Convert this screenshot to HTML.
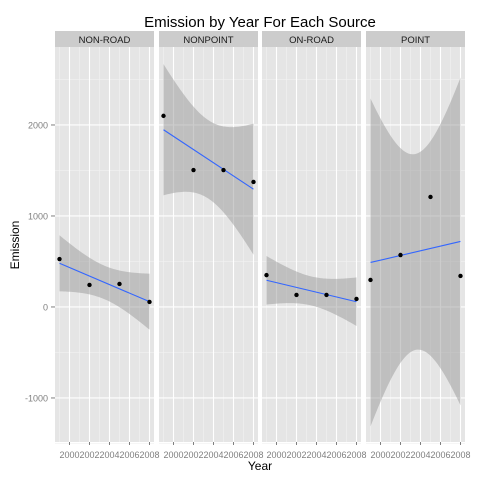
<!DOCTYPE html>
<html><head><meta charset="utf-8"><style>
html,body{margin:0;padding:0;background:#fff;}
svg{display:block;font-family:"Liberation Sans",sans-serif;}
</style></head><body>
<svg id="chart" width="480" height="480"></svg>
<script>
const panels = ["NON-ROAD","NONPOINT","ON-ROAD","POINT"];
const years = [1999, 2002, 2005, 2008];
const nonRoad = [527, 242, 253, 55];
const nonPoint = [2100, 1505, 1505, 1374];
const onRoad = [350, 132, 132, 88];
const pointSrc = [297, 571, 1209, 341];
const series = [nonRoad, nonPoint, onRoad, pointSrc];
const xTicks = [2000, 2002, 2004, 2006, 2008];
const yTicks = [-1000, 0, 1000, 2000];

const NS = "http://www.w3.org/2000/svg";
const svg = document.getElementById("chart");
function mk(tag, attrs, parent) {
  const e = document.createElementNS(NS, tag);
  for (const k in attrs) e.setAttribute(k, attrs[k]);
  (parent || svg).appendChild(e);
  return e;
}
const panelX = [55, 159, 262, 366];
const panelW = 99;
const plotTop = 47, plotBottom = 442;
const xMin = 1998.55, xMax = 2008.45;
const yMin = -1484, yMax = 2857;
function sx(i, v) { return panelX[i] + (v - xMin) / (xMax - xMin) * panelW; }
function sy(v) { return plotBottom - (v - yMin) / (yMax - yMin) * (plotBottom - plotTop); }

const title = mk("text", {x: 260, y: 27, "text-anchor": "middle", "font-size": 15, fill: "#000"});
title.textContent = "Emission by Year For Each Source";



panels.forEach((name, i) => {
  const g = mk("g", {});
  
  
  const x0 = panelX[i];
  mk("rect", {x: x0, y: 31, width: panelW, height: 16, fill: "#cccccc"}, g);
  const st = mk("text", {x: x0 + panelW / 2, y: 43, "text-anchor": "middle", "font-size": 9.5, fill: "#1a1a1a"}, g);
  st.textContent = name;
  
  
  mk("rect", {x: x0, y: plotTop, width: panelW, height: plotBottom - plotTop, fill: "#e5e5e5"}, g);
  for (let yr = 1999; yr <= 2008; yr += 2) {
    mk("line", {x1: sx(i, yr), x2: sx(i, yr), y1: plotTop, y2: plotBottom, stroke: "#f2f2f2", "stroke-width": 0.6}, g);
  }
  for (let v = -1500; v <= 2500; v += 1000) {
    mk("line", {x1: x0, x2: x0 + panelW, y1: sy(v), y2: sy(v), stroke: "#f2f2f2", "stroke-width": 0.6}, g);
  }
  xTicks.forEach(t => {
    mk("line", {x1: sx(i, t), x2: sx(i, t), y1: plotTop, y2: plotBottom, stroke: "#fff", "stroke-width": 1.1}, g);
    mk("line", {x1: sx(i, t), x2: sx(i, t), y1: plotBottom, y2: plotBottom + 3, stroke: "#7f7f7f", "stroke-width": 1}, g);
    const tl = mk("text", {x: sx(i, t), y: 458, "text-anchor": "middle", "font-size": 9, fill: "#7f7f7f"}, g);
    tl.textContent = t;
    
    
  });
  yTicks.forEach(t => {
    mk("line", {x1: x0, x2: x0 + panelW, y1: sy(t), y2: sy(t), stroke: "#fff", "stroke-width": 1.1}, g);
  });
  const ys = series[i];
  const n = years.length;
  const xm = years.reduce((a, b) => a + b) / n, ym = ys.reduce((a, b) => a + b) / n;
  let sxx = 0, sxy = 0;
  years.forEach((x, k) => { sxx += (x - xm) ** 2; sxy += (x - xm) * (ys[k] - ym); });
  const b = sxy / sxx, a = ym - b * xm;
  let sse = 0;
  years.forEach((x, k) => { sse += (ys[k] - (a + b * x)) ** 2; });
  const s = Math.sqrt(sse / (n - 2)), tq = 4.303;
  const xs0 = years[0], xs1 = years[n - 1];
  let upper = [], lower = [];
  for (let j = 0; j <= 60; j++) {
    const x = xs0 + (xs1 - xs0) * j / 60;
    const f = a + b * x;
    const se = s * Math.sqrt(1 / n + (x - xm) ** 2 / sxx);
    const yu = Math.max(plotTop, Math.min(plotBottom, sy(f + tq * se)));
    const yl = Math.max(plotTop, Math.min(plotBottom, sy(f - tq * se)));
    upper.push(sx(i, x).toFixed(2) + "," + yu.toFixed(2));
    lower.unshift(sx(i, x).toFixed(2) + "," + yl.toFixed(2));
  }
  const band = mk("polygon", {points: upper.concat(lower).join(" "), fill: "#999999", "fill-opacity": 0.5}, g);
  
  
  const ln = mk("line", {x1: sx(i, xs0), y1: sy(a + b * xs0), x2: sx(i, xs1), y2: sy(a + b * xs1), stroke: "#3366ff", "stroke-width": 1.1}, g);
  
  
  years.forEach((x, k) => {
    const c = mk("circle", {cx: sx(i, x), cy: sy(ys[k]), r: 2.2, fill: "#000"}, g);
    
    
  });
});
yTicks.forEach(t => {
  mk("line", {x1: 51, x2: 55, y1: sy(t), y2: sy(t), stroke: "#7f7f7f", "stroke-width": 1});
  const tl = mk("text", {x: 48, y: sy(t) + 3.5, "text-anchor": "end", "font-size": 9, fill: "#7f7f7f"});
  tl.textContent = t;
  
  
});
const xt = mk("text", {x: 260, y: 470, "text-anchor": "middle", "font-size": 12, fill: "#000"});
xt.textContent = "Year";


const yt = mk("text", {x: 0, y: 0, "text-anchor": "middle", "font-size": 12, fill: "#000", transform: "translate(19,245) rotate(-90)"});
yt.textContent = "Emission";


</script>
</body></html>
